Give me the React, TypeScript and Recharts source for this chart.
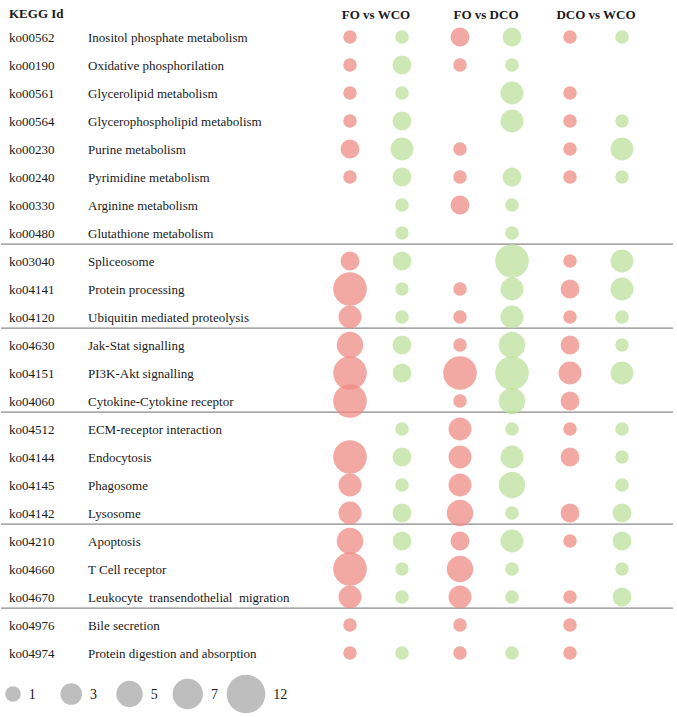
import { ScatterChart, Scatter, XAxis, YAxis, ZAxis, ReferenceLine, LabelList } from 'recharts'

const ids = [
  'ko00562', 'ko00190', 'ko00561', 'ko00564', 'ko00230', 'ko00240', 'ko00330', 'ko00480',
  'ko03040', 'ko04141', 'ko04120',
  'ko04630', 'ko04151', 'ko04060',
  'ko04512', 'ko04144', 'ko04145', 'ko04142',
  'ko04210', 'ko04660', 'ko04670',
  'ko04976', 'ko04974',
]
const names = [
  'Inositol phosphate metabolism', 'Oxidative phosphorilation', 'Glycerolipid metabolism',
  'Glycerophospholipid metabolism', 'Purine metabolism', 'Pyrimidine metabolism',
  'Arginine metabolism', 'Glutathione metabolism',
  'Spliceosome', 'Protein processing', 'Ubiquitin mediated proteolysis',
  'Jak-Stat signalling', 'PI3K-Akt signalling', 'Cytokine-Cytokine receptor',
  'ECM-receptor interaction', 'Endocytosis', 'Phagosome', 'Lysosome',
  'Apoptosis', 'T Cell receptor', 'Leukocyte  transendothelial  migration',
  'Bile secretion', 'Protein digestion and absorption',
]
const comparisons = ['FO vs WCO', 'FO vs DCO', 'DCO vs WCO']

// gene counts per pathway (null = not present); red = first series, green = second
const foWcoRed = [1, 1, 1, 1, 3, 1, null, null, 3, 12, 5, 7, 12, 12, null, 12, 5, 5, 7, 12, 5, 1, 1]
const foWcoGreen = [1, 3, 1, 3, 5, 3, 1, 1, 3, 1, 1, 3, 3, null, 1, 3, 1, 3, 3, 1, 1, null, 1]
const foDcoRed = [3, 1, null, null, 1, 1, 3, null, null, 1, 1, 1, 12, 1, 5, 5, 5, 7, 3, 7, 5, 1, 1]
const foDcoGreen = [3, 1, 5, 5, null, 3, 1, 1, 12, 5, 5, 7, 12, 7, 1, 5, 7, 1, 5, 1, 1, null, 1]
const dcoWcoRed = [1, null, 1, 1, 1, 1, null, null, 1, 3, 1, 3, 5, 3, 1, 3, null, 3, 1, null, 1, 1, 1]
const dcoWcoGreen = [1, null, null, 1, 5, 1, null, null, 5, 5, 1, 1, 5, null, 1, 1, 1, 3, 3, 1, 3, null, null]

// row index after which a divider is drawn
const groupEnds = [7, 10, 13, 17, 20]
const legendValues = [1, 3, 5, 7, 12]

const redSeries = [foWcoRed, foDcoRed, dcoWcoRed]
const greenSeries = [foWcoGreen, foDcoGreen, dcoWcoGreen]

function toPoints(series: (number | null)[][]) {
  const pts: { comp: number; row: number; z: number }[] = []
  series.forEach((vals, c) => {
    vals.forEach((v, r) => {
      if (v != null) pts.push({ comp: c, row: r, z: v })
    })
  })
  return pts
}

const redPoints = toPoints(redSeries)
const greenPoints = toPoints(greenSeries)
const rowTicks = ids.map((_, i) => i)
const legendData = legendValues.map((v) => ({ label: String(v), y: 0, z: v }))

const FONT = '"Liberation Serif", "Times New Roman", serif'
const PLOT_W = 672
const STEP = 110
const PAIR_HALF = 26
const dom = (px: number) => [-px / STEP, (PLOT_W - px) / STEP]

const RowTick = (props: any) => {
  const { y, payload } = props
  const i = payload.value
  return (
    <g>
      <text x={9} y={y} dy={4.5} fontSize={13} fontFamily={FONT} fill="#1a1a1a">{ids[i]}</text>
      <text x={88} y={y} dy={4.5} fontSize={13} fontFamily={FONT} fill="#1a1a1a" style={{ whiteSpace: 'pre' }}>{names[i]}</text>
    </g>
  )
}

// header sits centred over each red/green pair
const HeadTick = (props: any) => {
  const { x, payload } = props
  return (
    <text x={x + PAIR_HALF} y={19} textAnchor="middle" fontSize={13} fontWeight="bold" fontFamily={FONT} fill="#1a1a1a">
      {comparisons[payload.value]}
    </text>
  )
}

export default function App() {
  return (
    <div style={{ position: 'absolute', left: 0, top: 0, width: 677, height: 717, background: '#fff' }}>
      <div style={{ position: 'absolute', left: 9, top: 6, fontFamily: FONT, fontSize: 13, fontWeight: 'bold', color: '#1a1a1a' }}>
        KEGG Id
      </div>
      <ScatterChart width={677} height={672} margin={{ top: 7, right: 4, bottom: 19, left: 0 }}>
        <XAxis xAxisId="red" orientation="top" type="number" dataKey="comp" domain={dom(350 - 1)} ticks={[0, 1, 2]}
          height={30} axisLine={false} tickLine={false} tick={<HeadTick />} />
        <XAxis xAxisId="green" type="number" dataKey="comp" domain={dom(402 - 1)} hide />
        <YAxis type="number" dataKey="row" domain={[0, ids.length - 1]} reversed ticks={rowTicks} interval={0}
          width={1} axisLine={false} tickLine={false} tick={<RowTick />} />
        <ZAxis type="number" dataKey="z" domain={[1, 12]} range={[144, 887]} />
        {groupEnds.map((g) => (
          <ReferenceLine key={g} xAxisId="red" y={g + 0.4} stroke="#8a8a8a" strokeWidth={1.2} />
        ))}
        <Scatter xAxisId="red" data={redPoints} fill="#EE8C84" fillOpacity={0.75} isAnimationActive={false} />
        <Scatter xAxisId="green" data={greenPoints} fill="#BCE09B" fillOpacity={0.75} isAnimationActive={false} />
      </ScatterChart>
      <div style={{ position: 'absolute', left: 0, top: 672 }}>
        <ScatterChart width={300} height={44} margin={{ top: 0, right: 54, bottom: 0, left: 13 }}>
          <XAxis type="category" dataKey="label" scale="point" hide allowDuplicatedCategory={false} />
          <YAxis type="number" dataKey="y" domain={[-1, 1]} hide />
          <ZAxis type="number" dataKey="z" domain={[1, 12]} range={[188, 1169]} />
          <Scatter data={legendData} fill="#BEBEBE" isAnimationActive={false}>
            <LabelList dataKey="label" position="right" offset={8} fontSize={14} fontFamily={FONT} fill="#1a1a1a" />
          </Scatter>
        </ScatterChart>
      </div>
    </div>
  )
}
